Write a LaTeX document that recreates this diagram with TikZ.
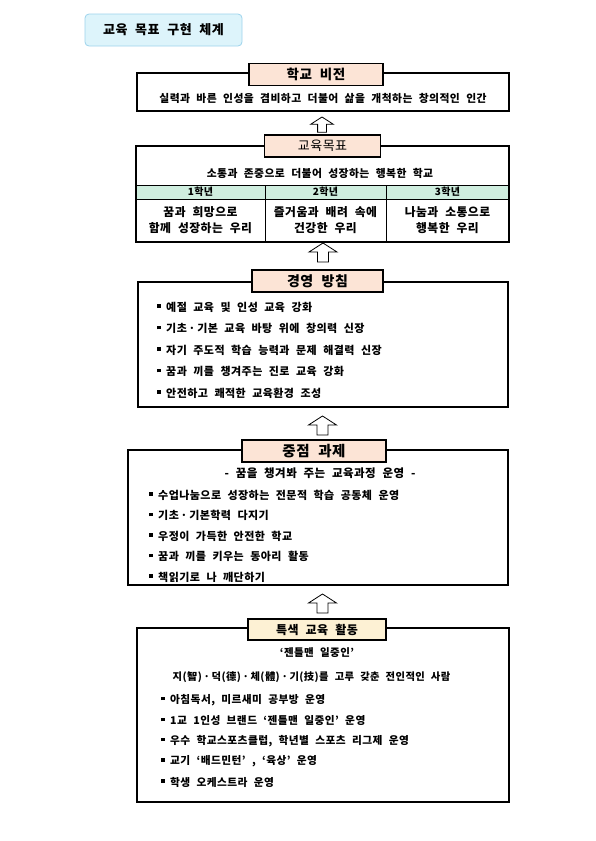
\documentclass[tikz,border=0pt]{standalone}
\usepackage{fontspec}
\newfontfamily\krfont{Noto Sans CJK KR}[LetterSpace=4,WordSpace=2.2]

\definecolor{titlefill}{HTML}{DDF4FB}
\definecolor{titleline}{HTML}{9DD3EC}
\definecolor{peach}{HTML}{FCE4D6}
\definecolor{cream}{HTML}{FDF1D4}
\definecolor{mint}{HTML}{CFEEDF}

\newcommand\sqbullet{\rule[0.3em]{3.5pt}{3.5pt}\hspace{5.5pt}}

\tikzset{
  titlebox/.style={draw=titleline, line width=0.8pt, fill=titlefill, rounded corners=4pt,
    minimum width=157pt, minimum height=32pt, inner sep=0pt,
    font=\krfont\bfseries\fontsize{13}{15}\selectfont},
  outerbox/.style={draw=black, line width=1.6pt},
  thinline/.style={draw=black, line width=0.8pt},
  labelbox/.style={draw=black, line width=1.6pt, fill=peach, minimum height=22pt, inner sep=0pt,
    font=\krfont\bfseries\fontsize{13.5}{15}\selectfont},
  bodytext/.style={inner sep=0pt, font=\krfont\bfseries\fontsize{10.8}{13}\selectfont},
  gradehead/.style={inner sep=0pt, font=\krfont\bfseries\fontsize{10}{11}\selectfont},
  gradetext/.style={inner sep=0pt, align=center, font=\krfont\bfseries\fontsize{11.8}{16}\selectfont},
  item/.style={anchor=west, inner sep=0pt, font=\krfont\bfseries\fontsize{11}{13}\selectfont},
  uparrow/.style={draw=black, line width=0.8pt, fill=white, line join=miter},
}

\begin{document}
\begin{tikzpicture}[x=1pt,y=-1pt]
  \useasboundingbox (0,0) rectangle (595,841);

  % title
  \node[titlebox] (title) at (163.5,30) {교육 목표 구현 체계};

  % school vision
  \draw[outerbox] (137,73) rectangle (509,111);
  \node[labelbox, minimum width=134pt] (vision) at (316,74.5) {학교 비전};
  \node[bodytext] (visiontxt) at (323,98) {실력과 바른 인성을 겸비하고 더불어 삶을 개척하는 창의적인 인간};

  \coordinate (arr1) at (322,117);
  \draw[uparrow, shift={(arr1)}, scale=0.8] (-5.5,19) -- (-5.5,9) -- (-14,9) -- (0,0) -- (14,9) -- (5.5,9) -- (5.5,19) -- cycle;

  % education goals
  \fill[mint] (136,185) rectangle (509,199);
  \draw[thinline] (136,185) -- (509,185);
  \draw[thinline] (136,199) -- (509,199);
  \draw[thinline] (265,185) -- (265,242);
  \draw[thinline] (386,185) -- (386,242);
  \draw[outerbox] (136,146) rectangle (509,242);
  \node[labelbox, minimum width=116pt, font=\krfont\fontsize{13}{15}\selectfont] (goal) at (322.5,146) {교육목표};
  \node[bodytext] (goaltxt) at (320,173) {소통과 존중으로 더불어 성장하는 행복한 학교};
  \node[gradehead] (head1) at (200.5,192) {1학년};
  \node[gradehead] (head2) at (325.5,192) {2학년};
  \node[gradehead] (head3) at (447.5,192) {3학년};
  \node[gradetext] (grade1) at (200.5,220.5) {꿈과 희망으로\\함께 성장하는 우리};
  \node[gradetext] (grade2) at (325.5,220.5) {즐거움과 배려 속에\\건강한 우리};
  \node[gradetext] (grade3) at (447.5,220.5) {나눔과 소통으로\\행복한 우리};

  \coordinate (arr2) at (323,243);
  \draw[uparrow, shift={(arr2)}] (-5.5,19) -- (-5.5,9) -- (-14,9) -- (0,0) -- (14,9) -- (5.5,9) -- (5.5,19) -- cycle;

  % management policy
  \draw[outerbox] (138,282) rectangle (508,407);
  \node[labelbox, minimum width=131pt, font=\krfont\bfseries\fontsize{14}{15}\selectfont] (policy) at (317.5,281) {경영 방침};
  \node[item] (policy1) at (157,307) {\sqbullet 예절 교육 및 인성 교육 강화};
  \node[item] (policy2) at (157,328.5) {\sqbullet 기초\,·\,기본 교육 바탕 위에 창의력 신장};
  \node[item] (policy3) at (157,350) {\sqbullet 자기 주도적 학습 능력과 문제 해결력 신장};
  \node[item] (policy4) at (157,371.5) {\sqbullet 꿈과 끼를 챙겨주는 진로 교육 강화};
  \node[item] (policy5) at (157,393) {\sqbullet 안전하고 쾌적한 교육환경 조성};

  \coordinate (arr3) at (322.5,416);
  \draw[uparrow, shift={(arr3)}] (-5.5,19) -- (-5.5,9) -- (-14,9) -- (0,0) -- (14,9) -- (5.5,9) -- (5.5,19) -- cycle;

  % key tasks
  \draw[outerbox] (128,450) rectangle (508,585);
  \node[labelbox, minimum width=144pt, font=\krfont\bfseries\fontsize{14.5}{16}\selectfont] (task) at (314,451) {중점 과제};
  \node[bodytext, font=\krfont\bfseries\fontsize{11.5}{13}\selectfont] (tasksub) at (320,473) {- 꿈을 챙겨봐 주는 교육과정 운영 -};
  \node[item] (task1) at (149,495) {\sqbullet 수업나눔으로 성장하는 전문적 학습 공동체 운영};
  \node[item] (task2) at (149,515.5) {\sqbullet 기초\,·\,기본학력 다지기};
  \node[item] (task3) at (149,536) {\sqbullet 우정이 가득한 안전한 학교};
  \node[item] (task4) at (149,556.5) {\sqbullet 꿈과 끼를 키우는 동아리 활동};
  \node[item] (task5) at (149,577) {\sqbullet 책읽기로 나 깨단하기};

  \coordinate (arr4) at (322.5,594);
  \draw[uparrow, shift={(arr4)}] (-5.5,19) -- (-5.5,9) -- (-14,9) -- (0,0) -- (14,9) -- (5.5,9) -- (5.5,19) -- cycle;

  % special activities
  \draw[outerbox] (137,628) rectangle (509,802);
  \node[labelbox, fill=cream, minimum width=138pt, minimum height=21pt, font=\krfont\bfseries\fontsize{12}{14}\selectfont] (special) at (317,629.5) {특색 교육 활동};
  \node[bodytext, font=\krfont\bfseries\fontsize{10.5}{12}\selectfont] (specialname) at (317,653) {‘젠틀맨 일중인’};
  \node[bodytext, font=\krfont\bfseries\fontsize{10.3}{12}\selectfont] (specialsub) at (311.5,677) {지(智)\,·\,덕(德)\,·\,체(體)\,·\,기(技)를 고루 갖춘 전인적인 사람};
  \node[item, font=\krfont\bfseries\fontsize{10.7}{13}\selectfont] (special1) at (161,700) {\sqbullet 아침독서, 미르새미 공부방 운영};
  \node[item, font=\krfont\bfseries\fontsize{10.7}{13}\selectfont] (special2) at (161,720.5) {\sqbullet 1교 1인성 브랜드 ‘젠틀맨 일중인’ 운영};
  \node[item, font=\krfont\bfseries\fontsize{10.7}{13}\selectfont] (special3) at (161,741) {\sqbullet 우수 학교스포츠클럽, 학년별 스포츠 리그제 운영};
  \node[item, font=\krfont\bfseries\fontsize{10.7}{13}\selectfont] (special4) at (161,761.5) {\sqbullet 교기 ‘배드민턴’ , ‘육상’ 운영};
  \node[item, font=\krfont\bfseries\fontsize{10.7}{13}\selectfont] (special5) at (161,782) {\sqbullet 학생 오케스트라 운영};
\end{tikzpicture}
\end{document}
